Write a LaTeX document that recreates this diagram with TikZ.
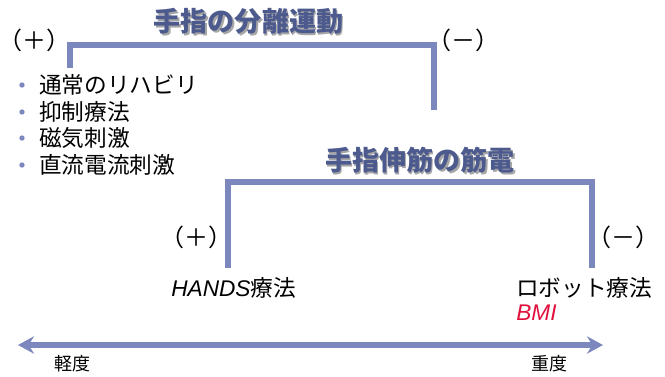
\documentclass[tikz,border=0pt]{standalone}
\usepackage{fontspec}
\setmainfont{Noto Sans CJK JP}
\newfontfamily\latinit{Liberation Sans}
\usetikzlibrary{arrows.meta}
\definecolor{lineblue}{HTML}{7C87BE}
\definecolor{titleblue}{HTML}{4C5A8E}
\definecolor{bmired}{HTML}{E0103C}
\tikzset{
  bracket/.style={draw=lineblue, line width=3.8pt},
  title/.style={font=\fontsize{20.3}{22}\selectfont\bfseries, text=titleblue, inner sep=0pt},
  shadowt/.style={font=\fontsize{20.3}{22}\selectfont\bfseries, text=black!35, inner sep=0pt},
  body/.style={font=\fontsize{17}{19}\selectfont, text=black, inner sep=0pt},
  sign/.style={font=\fontsize{18}{20}\selectfont, text=black, inner sep=0pt},
  small/.style={font=\fontsize{13.5}{15}\selectfont, text=black, inner sep=0pt},
  dot/.style={circle, fill=lineblue, inner sep=0pt, minimum size=4pt},
  axis/.style={draw=lineblue, line width=4pt, {Stealth[length=12pt,width=13pt,inset=4pt]}-{Stealth[length=12pt,width=13pt,inset=4pt]}}
}
\begin{document}
\begin{tikzpicture}[x=0.75pt,y=-0.75pt]
\useasboundingbox (0,0) rectangle (665,376);
% title 1
\node[shadowt] at (250,23) {手指の分離運動};
\node[title] (t1) at (248.5,21.5) {手指の分離運動};
\coordinate (b1a) at (70,68);
\coordinate (b1b) at (70,45);
\coordinate (b1c) at (434,45);
\coordinate (b1d) at (434,110);
\draw[bracket] (b1a) -- (b1b) -- (b1c) -- (b1d);
\node[sign] (p1) at (34,40) {（＋）};
\node[sign] (m1) at (463,40) {（－）};
% bullets
\foreach \y/\t [count=\i] in {85/通常のリハビリ,112/抑制療法,138/磁気刺激,165/直流電流刺激}{
  \node[dot] (d\i) at (22,\y) {};
  \node[body, anchor=west] (l\i) at (39,\y) {\t};
}
% title 2
\node[shadowt] at (421.5,162) {手指伸筋の筋電};
\node[title] (t2) at (420,160.5) {手指伸筋の筋電};
\coordinate (b2a) at (228,268);
\coordinate (b2b) at (228,182);
\coordinate (b2c) at (592,182);
\coordinate (b2d) at (592,268);
\draw[bracket] (b2a) -- (b2b) -- (b2c) -- (b2d);
\node[sign] (p2) at (196,237) {（＋）};
\node[sign] (m2) at (623,237) {（－）};
\node[body, anchor=west] (hands) at (171,288) {{\latinit\itshape HANDS}療法};
\node[body, anchor=west] (robot) at (516,288) {ロボット療法};
\node[body, anchor=west, text=bmired] (bmi) at (516,313) {\latinit\itshape BMI};
% axis
\coordinate (al) at (18,345);
\coordinate (ar) at (603,345);
\draw[axis] (al) -- (ar);
\node[small] (light) at (73,364) {軽度};
\node[small] (heavy) at (549,364) {重度};
\end{tikzpicture}
\end{document}
